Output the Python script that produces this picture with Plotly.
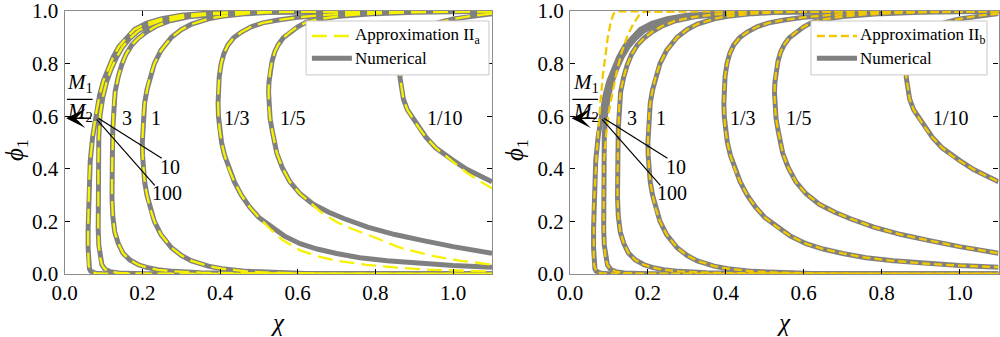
import plotly.graph_objects as go

# ---------------------------------------------------------------------------
# Binodal curves phi_1(chi) for M1/M2 = 100, 10, 3, 1, 1/3, 1/5, 1/10
# Each curve is listed along its path: upper branch (phi -> 1) from large chi
# down to the critical point, then the lower branch (phi -> 0) out to large chi.
# ---------------------------------------------------------------------------

# Numerical solution
N100_CHI = [1.10, 0.80, 0.60, 0.45, 0.37, 0.30, 0.25, 0.21, 0.18, 0.16, 0.14, 0.125, 0.11, 0.10,
            0.09, 0.08, 0.072, 0.066, 0.063, 0.061, 0.0605, 0.0605, 0.061, 0.062, 0.064, 0.067,
            0.072, 0.08, 0.10, 0.20, 0.50, 1.10]
N100_PHI = [1.0, 0.9999, 0.999, 0.996, 0.992, 0.984, 0.971, 0.953, 0.93, 0.90, 0.865, 0.825, 0.775,
            0.735, 0.68, 0.60, 0.52, 0.43, 0.34, 0.25, 0.17, 0.10, 0.06, 0.035, 0.02, 0.011,
            0.006, 0.003, 0.001, 0.0002, 0.0, 0.0]

N10_CHI = [1.10, 0.80, 0.60, 0.45, 0.37, 0.30, 0.25, 0.22, 0.19, 0.168, 0.15, 0.134, 0.12, 0.108,
           0.098, 0.091, 0.088, 0.087, 0.0865, 0.086, 0.0865, 0.088, 0.091, 0.096, 0.104, 0.117,
           0.14, 0.20, 0.40, 1.10]
N10_PHI = [1.0, 0.9999, 0.999, 0.996, 0.989, 0.978, 0.964, 0.948, 0.925, 0.896, 0.865, 0.825, 0.78,
           0.73, 0.67, 0.60, 0.52, 0.43, 0.33, 0.24, 0.17, 0.11, 0.065, 0.035, 0.018, 0.009,
           0.004, 0.001, 0.0002, 0.0]

N3_CHI = [1.10, 0.80, 0.60, 0.45, 0.374, 0.32, 0.271, 0.235, 0.211, 0.19, 0.173, 0.158, 0.147, 0.138,
          0.13, 0.126, 0.124, 0.123, 0.122, 0.122, 0.124, 0.129, 0.138, 0.15, 0.168, 0.19, 0.211,
          0.24, 0.28, 0.35, 0.50, 0.70, 1.10]
N3_PHI = [1.0, 0.9997, 0.9985, 0.994, 0.987, 0.978, 0.963, 0.942, 0.921, 0.897, 0.871, 0.835, 0.795,
          0.75, 0.693, 0.63, 0.55, 0.45, 0.37, 0.29, 0.22, 0.16, 0.117, 0.08, 0.053, 0.035, 0.025,
          0.016, 0.01, 0.005, 0.002, 0.0008, 0.0001]

N1_CHI = [1.10, 0.99, 0.921, 0.852, 0.761, 0.691, 0.622, 0.535, 0.469, 0.405, 0.370, 0.327, 0.301,
          0.275, 0.248, 0.231, 0.220, 0.212, 0.206, 0.203, 0.2007, 0.200,
          0.2007, 0.203, 0.206, 0.212, 0.220, 0.231, 0.248, 0.275, 0.301, 0.327, 0.370, 0.405,
          0.469, 0.535, 0.622, 0.691, 0.761, 0.852, 0.921, 0.99, 1.10]
N1_PHI = [0.99998, 0.99995, 0.9999, 0.9998, 0.9995, 0.999, 0.998, 0.995, 0.99, 0.98, 0.97, 0.95, 0.93,
          0.90, 0.85, 0.80, 0.75, 0.70, 0.65, 0.60, 0.55, 0.50,
          0.45, 0.40, 0.35, 0.30, 0.25, 0.20, 0.15, 0.10, 0.07, 0.05, 0.03, 0.02,
          0.01, 0.005, 0.002, 0.001, 0.0005, 0.0002, 0.0001, 0.00005, 0.00002]

N1_3_CHI = [1.10, 0.95, 0.85, 0.75, 0.67, 0.60, 0.55, 0.51, 0.48, 0.455, 0.435, 0.42, 0.41, 0.403,
            0.398, 0.396, 0.395, 0.396, 0.399, 0.404, 0.412, 0.423, 0.437, 0.455, 0.476, 0.50,
            0.53, 0.565, 0.606, 0.65, 0.70, 0.76, 0.83, 0.91, 1.00, 1.10]
N1_3_PHI = [0.9998, 0.999, 0.997, 0.992, 0.985, 0.976, 0.966, 0.955, 0.94, 0.92, 0.898, 0.87, 0.838,
            0.80, 0.75, 0.70, 0.65, 0.60, 0.55, 0.50, 0.45, 0.40, 0.35, 0.30, 0.255, 0.215,
            0.18, 0.145, 0.115, 0.095, 0.078, 0.062, 0.05, 0.04, 0.032, 0.026]

N1_5_CHI = [1.10, 1.00, 0.90, 0.80, 0.75, 0.70, 0.65, 0.623, 0.60, 0.58, 0.563, 0.55, 0.541, 0.534,
            0.529, 0.526, 0.525, 0.526, 0.529, 0.535, 0.546, 0.56, 0.58, 0.606, 0.64, 0.68, 0.72,
            0.78, 0.85, 0.92, 1.00, 1.10]
N1_5_PHI = [0.9995, 0.998, 0.995, 0.99, 0.986, 0.979, 0.968, 0.958, 0.94, 0.92, 0.898, 0.872, 0.845,
            0.81, 0.77, 0.73, 0.69, 0.64, 0.59, 0.54, 0.46, 0.405, 0.35, 0.305, 0.265, 0.235, 0.21,
            0.178, 0.15, 0.128, 0.104, 0.079]

N1_10_CHI = [1.10, 1.05, 1.00, 0.96, 0.93, 0.90, 0.885, 0.874, 0.867, 0.864, 0.863, 0.866, 0.872,
             0.882, 0.893, 0.91, 0.93, 0.955, 0.98, 1.00, 1.035, 1.07, 1.10]
N1_10_PHI = [0.99, 0.982, 0.97, 0.955, 0.935, 0.90, 0.87, 0.84, 0.81, 0.78, 0.75, 0.72, 0.665,
             0.625, 0.60, 0.56, 0.52, 0.48, 0.45, 0.432, 0.398, 0.372, 0.351]

# Approximation II_a: departs from the numerical lower branch for M1/M2 = 1/3, 1/5, 1/10
IIA_1_3_CHI = N1_3_CHI[:26] + [0.53, 0.56, 0.606, 0.65, 0.70, 0.777, 0.85, 0.93, 1.00, 1.10]
IIA_1_3_PHI = N1_3_PHI[:26] + [0.17, 0.13, 0.09, 0.068, 0.05, 0.035, 0.025, 0.017, 0.013, 0.009]

IIA_1_5_CHI = N1_5_CHI[:24] + [0.66, 0.70, 0.734, 0.80, 0.863, 0.95, 1.02, 1.10]
IIA_1_5_PHI = N1_5_PHI[:24] + [0.235, 0.198, 0.175, 0.138, 0.10, 0.068, 0.05, 0.036]

IIA_1_10_CHI = N1_10_CHI[:19] + [1.00, 1.035, 1.07, 1.10]
IIA_1_10_PHI = N1_10_PHI[:19] + [0.425, 0.385, 0.352, 0.326]

# Approximation II_b: departs from the numerical upper branch for M1/M2 = 100, 10
IIB_100_CHI = [1.10, 0.50, 0.20, 0.14, 0.12, 0.112, 0.105, 0.097, 0.09, 0.084, 0.078, 0.073,
               0.068] + N100_CHI[19:]
IIB_100_PHI = [1.0, 1.0, 1.0, 1.0, 0.999, 0.99, 0.96, 0.90, 0.82, 0.75, 0.65, 0.55,
               0.45] + N100_PHI[19:]

IIB_10_CHI = [1.10, 0.50, 0.22, 0.192, 0.178, 0.162, 0.146, 0.132, 0.12, 0.11, 0.10,
              0.093] + N10_CHI[17:]
IIB_10_PHI = [1.0, 1.0, 1.0, 0.998, 0.985, 0.95, 0.90, 0.84, 0.77, 0.70, 0.62,
              0.53] + N10_PHI[17:]

# Curve labels
LABELS = ["3", "1", "1/3", "1/5", "1/10", "10", "100"]
LABEL_CHI = [0.160, 0.234, 0.443, 0.589, 0.979, 0.272, 0.263]
LABEL_PHI = [0.592, 0.592, 0.592, 0.592, 0.592, 0.408, 0.307]

X_TICKS = [0.0, 0.2, 0.4, 0.6, 0.8, 1.0]
Y_TICKS = [0.0, 0.2, 0.4, 0.6, 0.8, 1.0]

# ---------------------------------------------------------------------------
GRAY = "#808080"
SERIF = "Liberation Serif, Tinos, Times New Roman, DejaVu Serif, serif"
numerical = [(N100_CHI, N100_PHI), (N10_CHI, N10_PHI), (N3_CHI, N3_PHI), (N1_CHI, N1_PHI),
             (N1_3_CHI, N1_3_PHI), (N1_5_CHI, N1_5_PHI), (N1_10_CHI, N1_10_PHI)]
approx_a = [(N100_CHI, N100_PHI), (N10_CHI, N10_PHI), (N3_CHI, N3_PHI), (N1_CHI, N1_PHI),
            (IIA_1_3_CHI, IIA_1_3_PHI), (IIA_1_5_CHI, IIA_1_5_PHI), (IIA_1_10_CHI, IIA_1_10_PHI)]
approx_b = [(IIB_100_CHI, IIB_100_PHI), (IIB_10_CHI, IIB_10_PHI), (N3_CHI, N3_PHI),
            (N1_CHI, N1_PHI), (N1_3_CHI, N1_3_PHI), (N1_5_CHI, N1_5_PHI), (N1_10_CHI, N1_10_PHI)]

panels = [
    dict(xa="x", ya="y", approx=approx_a, yellow="#F7F200", dash="15px,7px", sub="a"),
    dict(xa="x2", ya="y2", approx=approx_b, yellow="#F2C800", dash="8px,4px", sub="b"),
]

fig = go.Figure()
for p in panels:
    for cx, cy in numerical:
        fig.add_trace(go.Scatter(x=cx, y=cy, mode="lines", xaxis=p["xa"], yaxis=p["ya"],
                                 line=dict(color=GRAY, width=5), hoverinfo="skip",
                                 showlegend=False))
for p in panels:
    for cx, cy in p["approx"]:
        fig.add_trace(go.Scatter(x=cx, y=cy, mode="lines", xaxis=p["xa"], yaxis=p["ya"],
                                 line=dict(color=p["yellow"], width=2.3, dash=p["dash"]),
                                 hoverinfo="skip", showlegend=False))

axis_common = dict(showline=True, linecolor="#8c8c8c", linewidth=1.3, mirror="ticks",
                   ticks="inside", ticklen=5, tickwidth=1, tickcolor="black",
                   showgrid=False, zeroline=False, automargin=False,
                   ticklabeloverflow="allow",
                   tickfont=dict(family=SERIF, size=21, color="black"))
ydom = [1 - 274 / 337, 1 - 11 / 337]
fig.update_layout(
    width=1000, height=337, margin=dict(l=0, r=0, t=0, b=0, pad=0, autoexpand=False),
    paper_bgcolor="white", plot_bgcolor="white",
    xaxis=dict(domain=[0.0646, 0.492], range=[0, 1.1], tickvals=X_TICKS, tickformat=".1f",
               anchor="y", **axis_common),
    yaxis=dict(domain=ydom, range=[0, 1], tickvals=Y_TICKS, tickformat=".1f", anchor="x",
               ticklabelstandoff=1, **axis_common),
    xaxis2=dict(domain=[0.570, 0.9985], range=[0, 1.1], tickvals=X_TICKS, tickformat=".1f",
                anchor="y2", **axis_common),
    yaxis2=dict(domain=ydom, range=[0, 1], tickvals=Y_TICKS, tickformat=".1f", anchor="x2",
                ticklabelstandoff=1, **axis_common),
)

shapes = []
annotations = []
for i, p in enumerate(panels):
    xa, ya = p["xa"], p["ya"]
    # curve labels
    for t, lx, ly in zip(LABELS, LABEL_CHI, LABEL_PHI):
        annotations.append(dict(x=lx, y=ly, xref=xa, yref=ya, text=t, showarrow=False,
                                xanchor="center", yanchor="middle",
                                font=dict(family=SERIF, size=20, color="black")))
    # leader lines to the "10" and "100" labels
    shapes.append(dict(type="line", xref=xa, yref=ya, x0=0.0868, y0=0.592, x1=0.250, y1=0.44,
                       line=dict(color="black", width=1.2), layer="above"))
    shapes.append(dict(type="line", xref=xa, yref=ya, x0=0.0826, y0=0.588, x1=0.232, y1=0.337,
                       line=dict(color="black", width=1.2), layer="above"))
    # arrow showing the direction of increasing M1/M2
    annotations.append(dict(x=0.004, y=0.592, xref=xa, yref=ya, ax=0.072, ay=0.592,
                            axref=xa, ayref=ya, showarrow=True, arrowhead=3, arrowsize=2.3,
                            arrowwidth=1.4, arrowcolor="black", text=""))
    # M1/M2 fraction
    annotations.append(dict(x=0.040, y=0.727, xref=xa, yref=ya, xanchor="center",
                            yanchor="middle", text="<i>M</i><sub>1</sub>", showarrow=False,
                            font=dict(family=SERIF, size=21, color="black")))
    annotations.append(dict(x=0.040, y=0.617, xref=xa, yref=ya, xanchor="center",
                            yanchor="middle", text="<i>M</i><sub>2</sub>", showarrow=False,
                            font=dict(family=SERIF, size=21, color="black")))
    shapes.append(dict(type="line", xref=xa, yref=ya, x0=0.006, y0=0.664, x1=0.072, y1=0.664,
                       line=dict(color="black", width=1.2), layer="above"))
    # legend box
    x0, x1 = (0.6215, 1.0922) if i == 0 else (0.6187, 1.0706)
    shapes.append(dict(type="rect", xref=xa, yref=ya, x0=x0, x1=x1, y0=0.757, y1=0.962,
                       fillcolor="white", line=dict(color="#c8c8c8", width=1), layer="above"))
    shapes.append(dict(type="line", xref=xa, yref=ya, x0=x0 + 0.015, x1=x0 + 0.118,
                       y0=0.905, y1=0.905, layer="above",
                       line=dict(color=p["yellow"], width=2.3, dash=p["dash"])))
    shapes.append(dict(type="line", xref=xa, yref=ya, x0=x0 + 0.015, x1=x0 + 0.118,
                       y0=0.82, y1=0.82, layer="above", line=dict(color=GRAY, width=5)))
    annotations.append(dict(x=x0 + 0.121, y=0.905, xref=xa, yref=ya, xanchor="left",
                            yanchor="middle",
                            text="Approximation II<sub>%s</sub>" % p["sub"], showarrow=False,
                            font=dict(family=SERIF, size=17, color="black")))
    annotations.append(dict(x=x0 + 0.121, y=0.82, xref=xa, yref=ya, xanchor="left",
                            yanchor="middle", text="Numerical", showarrow=False,
                            font=dict(family=SERIF, size=17, color="black")))
    # axis titles
    xc = 0.2783 if i == 0 else 0.784
    annotations.append(dict(x=xc, y=1 - 322 / 337, xref="paper", yref="paper", text="<i>χ</i>",
                            xanchor="center", yanchor="middle", showarrow=False,
                            font=dict(family=SERIF, size=25, color="black")))
    yx = 0.016 if i == 0 else 0.516
    annotations.append(dict(x=yx, y=1 - 150 / 337, xref="paper", yref="paper",
                            xanchor="center", yanchor="middle",
                            text="<i>ϕ</i><sub>1</sub>", textangle=-90, showarrow=False,
                            font=dict(family=SERIF, size=25, color="black")))

fig.update_layout(shapes=shapes, annotations=annotations)
fig.write_html("out.html")
